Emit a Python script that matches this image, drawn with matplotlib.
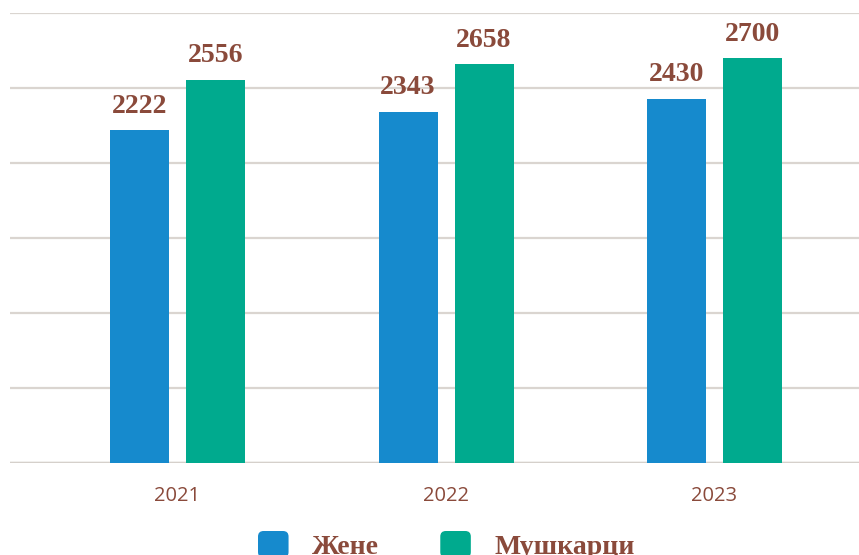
import numpy as np
import matplotlib.pyplot as plt
from matplotlib.patches import FancyBboxPatch, Patch
from matplotlib.legend_handler import HandlerPatch

years = ["2021", "2022", "2023"]
women = [2222, 2343, 2430]
men = [2556, 2658, 2700]
series_names = ["Жене", "Мушкарци"]

blue = "#168ACD"
green = "#00AA8E"
brown = "#8A4A3B"
grid_col = "#DAD5D0"


class RoundHandler(HandlerPatch):
    def create_artists(self, legend, orig_handle, xdescent, ydescent,
                       width, height, fontsize, trans):
        p = FancyBboxPatch((-xdescent + 2, -ydescent + 2), width - 4, height - 4,
                           boxstyle="round,pad=2,rounding_size=4",
                           facecolor=orig_handle.get_facecolor(), edgecolor="none",
                           transform=trans)
        return [p]


fig = plt.figure(figsize=(8.59, 5.55), dpi=100)
ax = fig.add_axes([10 / 859, 92 / 555, 849 / 859, 450 / 555])

x = np.arange(len(years))
offset = 0.1415
width = 0.22
b1 = ax.bar(x - offset, women, width, color=blue, zorder=3)
b2 = ax.bar(x + offset, men, width, color=green, zorder=3)

for bars, vals in ((b1, women), (b2, men)):
    for rect, v in zip(bars, vals):
        ax.annotate(str(v), (rect.get_x() + rect.get_width() / 2, v),
                    xytext=(0, 8), textcoords="offset points",
                    ha="center", va="bottom", fontsize=20, fontweight="bold",
                    family="Liberation Serif", color=brown, clip_on=False)

ax.set_ylim(0, 3000)
ax.set_xlim(-0.624, 2.538)
ax.set_yticks(np.arange(0, 3001, 500))
ax.yaxis.grid(True, color=grid_col, linewidth=1.6, zorder=0)
ax.axhline(0, color="#D5D0CB", linewidth=2.5, zorder=2)
ax.tick_params(axis="y", left=False, labelleft=False)
ax.tick_params(axis="x", bottom=False, pad=13, labelsize=14.5, labelcolor=brown)
ax.set_xticks(x, years)
for lab in ax.get_xticklabels():
    lab.set_family("Open Sans")
for s in ax.spines.values():
    s.set_visible(False)

handles = [Patch(facecolor=blue), Patch(facecolor=green)]
leg = fig.legend(handles, series_names, loc="upper left",
                 bbox_to_anchor=(258 / 859, (555 - 531) / 555),
                 ncol=2, frameon=False, borderpad=0, borderaxespad=0,
                 handlelength=1.1, handleheight=1.1, handletextpad=0.85,
                 columnspacing=2.2,
                 handler_map={Patch: RoundHandler()},
                 prop={"family": "Liberation Serif", "weight": "bold", "size": 20})
for t in leg.get_texts():
    t.set_color(brown)

fig.savefig("out.png", dpi=100)
